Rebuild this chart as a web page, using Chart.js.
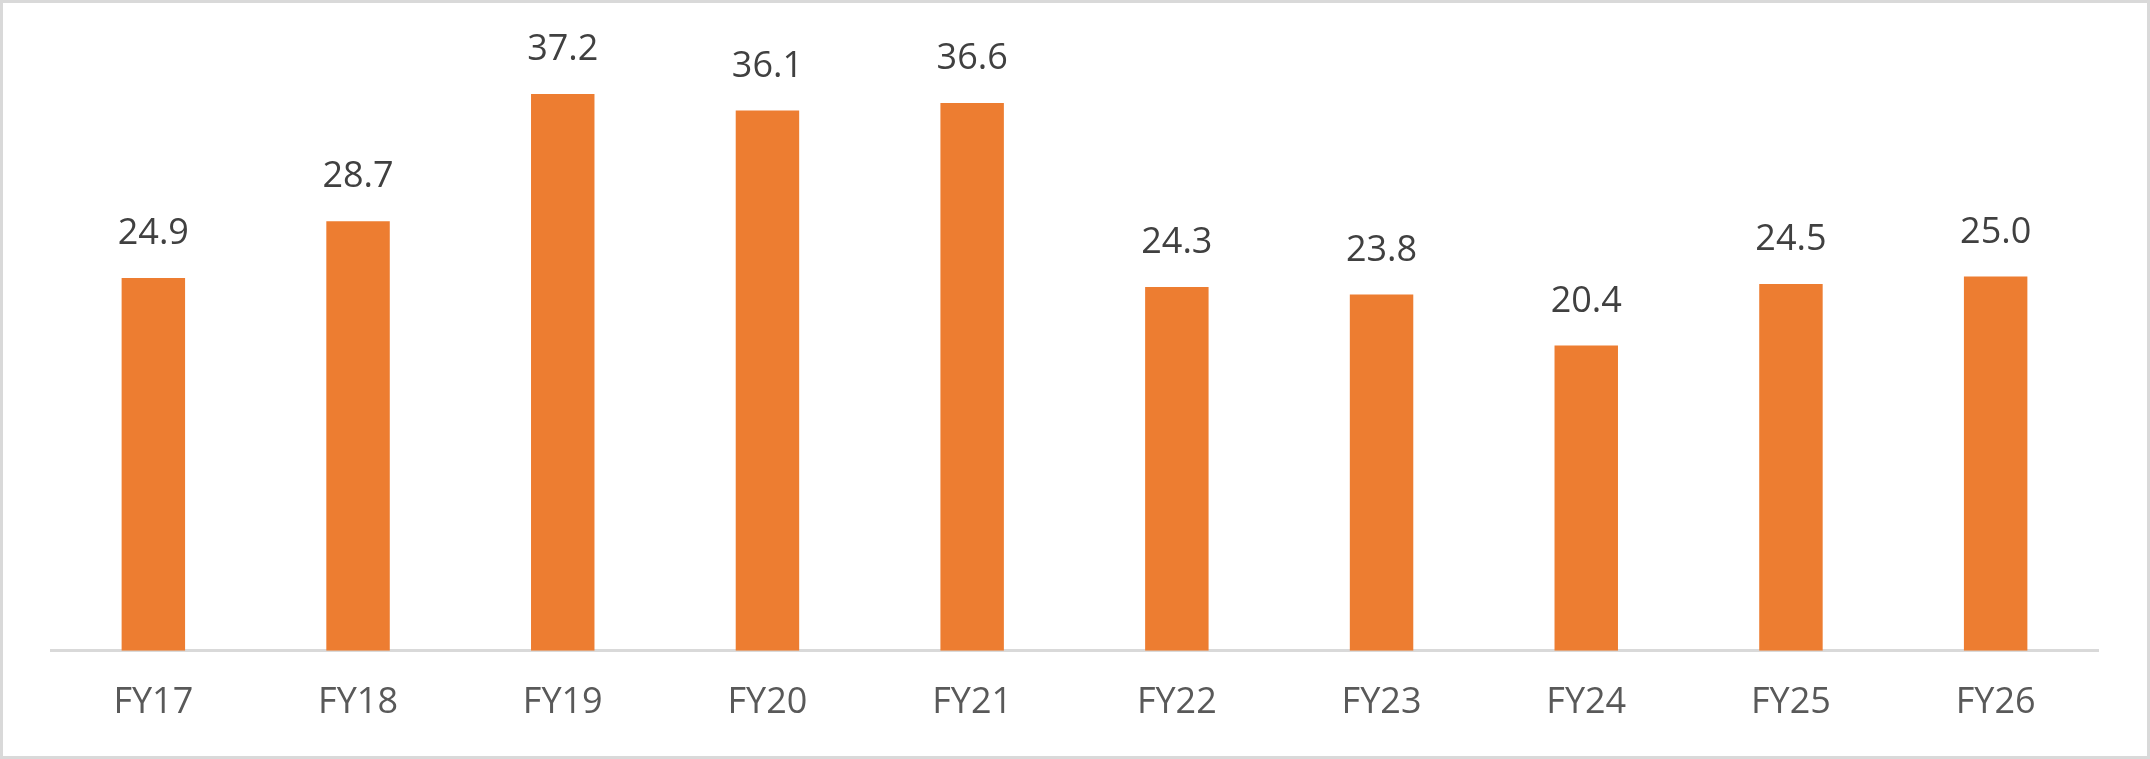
<!DOCTYPE html>
<html>
<head>
<meta charset="utf-8">
<script src="https://cdn.jsdelivr.net/npm/chart.js@4/dist/chart.umd.min.js"></script>
<style>
  html, body { margin: 0; padding: 0; background: #fff; }
  .frame {
    width: 2150px;
    height: 759px;
    box-sizing: border-box;
    border: 3px solid #d9d9d9;
    background: #fff;
  }
  canvas { display: block; }
</style>
</head>
<body>
<div class="frame">
  <canvas id="fyChart" width="2144" height="753"></canvas>
</div>
<script>
// Values per financial year
const years = ["FY17", "FY18", "FY19", "FY20", "FY21", "FY22", "FY23", "FY24", "FY25", "FY26"];
const values = [24.9, 28.7, 37.2, 36.1, 36.6, 24.3, 23.8, 20.4, 24.5, 25.0];

// Value labels above each bar (no datalabels plugin available offline)
const barLabels = {
  id: "barLabels",
  afterDatasetsDraw(chart) {
    const ctx = chart.ctx;
    const meta = chart.getDatasetMeta(0);
    ctx.save();
    ctx.font = "36px 'Open Sans'";
    ctx.fillStyle = "#404040";
    ctx.textAlign = "center";
    ctx.textBaseline = "middle";
    meta.data.forEach((bar, i) => {
      ctx.fillText(values[i].toFixed(1), bar.x, bar.y - 44);
    });
    ctx.restore();
  }
};

const fyCtx = document.getElementById("fyChart");

new Chart(fyCtx, {
  type: "bar",
  data: {
    labels: years,
    datasets: [{
      data: values,
      backgroundColor: "#ed7d31",
      barPercentage: 0.31,
      categoryPercentage: 1
    }]
  },
  options: {
    responsive: false,
    animation: false,
    devicePixelRatio: 1,
    layout: { padding: { left: 48, right: 49, top: 49, bottom: 2 } },
    plugins: {
      legend: { display: false },
      tooltip: { enabled: false }
    },
    scales: {
      y: { display: false, min: 0, max: 40 },
      x: {
        grid: { display: false, drawTicks: false },
        border: { display: true, color: "#d9d9d9", width: 3 },
        ticks: {
          color: "#595959",
          padding: 30,
          font: { family: "'Open Sans'", size: 36 }
        }
      }
    }
  },
  plugins: [barLabels]
});
</script>
</body>
</html>
